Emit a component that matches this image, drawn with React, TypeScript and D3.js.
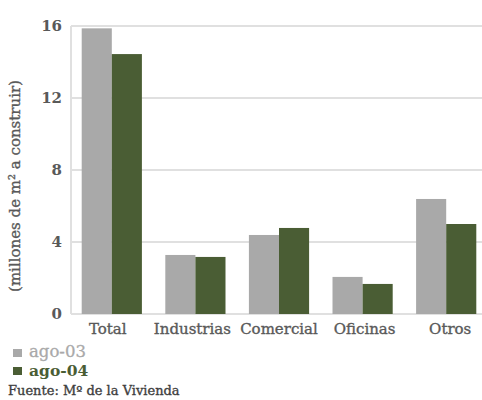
import React from "react";
import * as d3 from "d3";

const categories = ["Total", "Industrias", "Comercial", "Oficinas", "Otros"];
const series = ["ago-03", "ago-04"];
const ago03 = [15.87, 3.28, 4.39, 2.06, 6.39];
const ago04 = [14.44, 3.17, 4.78, 1.67, 5.0];
const yTicks = [0, 4, 8, 12, 16];

const colors = ["#A9A9A9", "#4A5D34"];
const FONT = "'DejaVu Serif', serif";

export default function App() {
  const W = 482, H = 400;
  const left = 71, top = 26, bottom = 314;
  const x = d3.scaleBand<string>().domain(categories).range([70, 488]).paddingInner(0.28).paddingOuter(0.14);
  const xs = d3.scaleBand<string>().domain(series).range([0, x.bandwidth()]);
  const y = d3.scaleLinear().domain([0, 16]).range([bottom, top]);
  const data = [ago03, ago04];
  const labelShift = [-4, -3, 0, 2, 4];
  return (
    <svg width={W} height={H} style={{ position: "absolute", left: 0, top: 0, fontFamily: FONT }}>
      <rect width={W} height={H} fill="#fff" />
      {yTicks.map((t) => (
        <g key={t}>
          <line x1={left} x2={W} y1={y(t)} y2={y(t)} stroke="#E0E0E0" strokeWidth={2} />
          <text x={62} y={y(t)} dy="0.35em" textAnchor="end" fontSize={15} fontWeight="bold" fill="#595959">
            {t}
          </text>
        </g>
      ))}
      <line x1={left} x2={left} y1={top} y2={bottom} stroke="#E0E0E0" strokeWidth={2} />
      {categories.map((c, i) => (
        <g key={c}>
          {series.map((s, j) => (
            <rect
              key={s}
              x={(x(c) ?? 0) + (xs(s) ?? 0)}
              y={y(data[j][i])}
              width={xs.bandwidth()}
              height={bottom - y(data[j][i])}
              fill={colors[j]}
            />
          ))}
          <text
            x={(x(c) ?? 0) + x.bandwidth() / 2 + labelShift[i]}
            y={334}
            textAnchor="middle"
            fontSize={15}
            fill="#595959"
            stroke="#595959"
            strokeWidth={0.35}
          >
            {c}
          </text>
        </g>
      ))}
      <text
        transform={`translate(20,186) rotate(-90)`}
        textAnchor="middle"
        fontSize={15}
        fill="#595959"
        stroke="#595959"
        strokeWidth={0.35}
      >
        (millones de m² a construir)
      </text>
      {series.map((s, j) => (
        <g key={s}>
          <rect x={13} y={349 + j * 18} width={9} height={8} fill={colors[j]} />
          <text
            x={29}
            y={357 + j * 19}
            fontSize={j === 1 ? 15.5 : 16.5}
            fill={colors[j]}
            fontWeight={j === 1 ? "bold" : "normal"}
            stroke={j === 1 ? "none" : colors[j]}
            strokeWidth={0.3}
          >
            {s}
          </text>
        </g>
      ))}
      <text x={8} y={395} fontSize={13} fill="#404040" stroke="#404040" strokeWidth={0.35}>
        Fuente: Mº de la Vivienda
      </text>
    </svg>
  );
}
